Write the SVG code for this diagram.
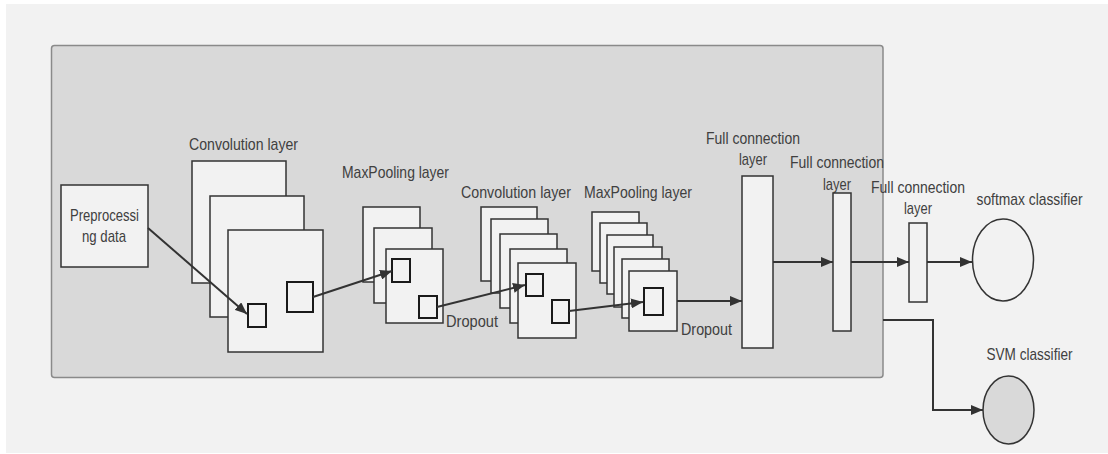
<svg xmlns="http://www.w3.org/2000/svg" width="1108" height="454" viewBox="0 0 1108 454">
  <style>
    .lbl { font-family: "Liberation Sans", Arial, sans-serif; font-size: 17px; fill: #404040; }
    .mid { text-anchor: middle; }
    .map { fill: #f2f2f2; stroke: #333333; stroke-width: 1.5; }
    .win { fill: #f2f2f2; stroke: #1a1a1a; stroke-width: 2; }
    .fc { fill: #f2f2f2; stroke: #333333; stroke-width: 1.5; }
    .link { fill: none; stroke: #333333; stroke-width: 2; marker-end: url(#arrow); }
  </style>
  <defs>
    <marker id="arrow" viewBox="0 0 12 10" refX="12" refY="5" markerWidth="12" markerHeight="10" markerUnits="userSpaceOnUse" orient="auto">
      <path d="M0,0 L12,5 L0,10 Z" fill="#333333"/>
    </marker>
  </defs>

  <!-- canvas -->
  <rect x="0" y="0" width="1108" height="454" fill="#ffffff"/>
  <rect x="6" y="4" width="1102" height="449" fill="#f2f2f2"/>

  <!-- CNN feature-extraction panel -->
  <g id="cnn-panel">
    <rect x="51.5" y="45.5" width="831.5" height="332" rx="3" fill="#d9d9d9" stroke="#8a8a8a" stroke-width="1.5"/>
  </g>

  <g id="preprocessing">
    <rect class="map" x="61" y="185" width="87" height="82"/>
    <text class="lbl mid" x="104.5" y="221" textLength="69" lengthAdjust="spacingAndGlyphs">Preprocessi</text>
    <text class="lbl mid" x="104" y="242" textLength="44" lengthAdjust="spacingAndGlyphs">ng data</text>
  </g>

  <g id="conv1">
    <text class="lbl mid" x="243.5" y="150" textLength="109" lengthAdjust="spacingAndGlyphs">Convolution layer</text>
    <rect class="map" x="192" y="161" width="94" height="122"/>
    <rect class="map" x="210" y="196" width="94" height="121"/>
    <rect class="map" x="228" y="230" width="95" height="122"/>
    <rect class="win" x="248" y="304" width="18" height="23"/>
    <rect class="win" x="287" y="282" width="26" height="30"/>
  </g>

  <g id="pool1">
    <text class="lbl mid" x="395.5" y="178" textLength="107" lengthAdjust="spacingAndGlyphs">MaxPooling layer</text>
    <rect class="map" x="363" y="207" width="57" height="75"/>
    <rect class="map" x="374" y="228" width="58" height="75"/>
    <rect class="map" x="386" y="249" width="57" height="74"/>
    <rect class="win" x="392" y="259" width="18" height="23"/>
    <rect class="win" x="419" y="296" width="18" height="22"/>
    <text class="lbl" x="446" y="327" textLength="52" lengthAdjust="spacingAndGlyphs">Dropout</text>
  </g>

  <g id="conv2">
    <text class="lbl mid" x="516" y="198" textLength="110" lengthAdjust="spacingAndGlyphs">Convolution layer</text>
    <rect class="map" x="481" y="207" width="56" height="74"/>
    <rect class="map" x="491" y="219" width="57" height="74"/>
    <rect class="map" x="500" y="234" width="57" height="74"/>
    <rect class="map" x="510" y="249" width="57" height="74"/>
    <rect class="map" x="518" y="263" width="58" height="75"/>
    <rect class="win" x="526" y="274" width="17" height="22"/>
    <rect class="win" x="552" y="300" width="17" height="23"/>
  </g>

  <g id="pool2">
    <text class="lbl mid" x="638" y="198" textLength="108" lengthAdjust="spacingAndGlyphs">MaxPooling layer</text>
    <rect class="map" x="592" y="212" width="47" height="59"/>
    <rect class="map" x="600" y="223" width="47" height="60"/>
    <rect class="map" x="607" y="235" width="46" height="59"/>
    <rect class="map" x="614" y="247" width="48" height="60"/>
    <rect class="map" x="622" y="259" width="47" height="59"/>
    <rect class="map" x="629" y="271" width="48" height="60"/>
    <rect class="win" x="644" y="288" width="19" height="27"/>
    <text class="lbl" x="681" y="335" textLength="51" lengthAdjust="spacingAndGlyphs">Dropout</text>
  </g>

  <g id="fc1">
    <text class="lbl mid" x="753" y="144" textLength="94" lengthAdjust="spacingAndGlyphs">Full connection</text>
    <text class="lbl mid" x="753" y="165" textLength="28" lengthAdjust="spacingAndGlyphs">layer</text>
    <rect class="fc" x="742" y="176" width="31" height="172"/>
  </g>

  <g id="fc2">
    <text class="lbl mid" x="837" y="168" textLength="94" lengthAdjust="spacingAndGlyphs">Full connection</text>
    <text class="lbl mid" x="837" y="190" textLength="28" lengthAdjust="spacingAndGlyphs">layer</text>
    <rect class="fc" x="833" y="193" width="18" height="138"/>
  </g>

  <g id="fc3">
    <text class="lbl mid" x="918" y="193" textLength="94" lengthAdjust="spacingAndGlyphs">Full connection</text>
    <text class="lbl mid" x="918" y="214" textLength="28" lengthAdjust="spacingAndGlyphs">layer</text>
    <rect class="fc" x="909" y="223" width="18" height="79"/>
  </g>

  <g id="softmax">
    <text class="lbl mid" x="1029.5" y="205" textLength="106" lengthAdjust="spacingAndGlyphs">softmax classifier</text>
    <ellipse cx="1003" cy="260" rx="30.5" ry="41" fill="#f2f2f2" stroke="#333333" stroke-width="1.5"/>
  </g>

  <g id="svm">
    <text class="lbl mid" x="1029.5" y="360" textLength="86" lengthAdjust="spacingAndGlyphs">SVM classifier</text>
    <ellipse cx="1008.5" cy="410" rx="25.5" ry="34" fill="#d9d9d9" stroke="#333333" stroke-width="1.5"/>
  </g>

  <!-- connectors -->
  <g id="connectors">
    <path class="link" d="M148,228 L247,314"/>
    <path class="link" d="M313,297 L392,271"/>
    <path class="link" d="M437,307 L525,285"/>
    <path class="link" d="M569,311 L643,302"/>
    <path class="link" d="M677,301 H742"/>
    <path class="link" d="M773,262 H833"/>
    <path class="link" d="M851,262 H909"/>
    <path class="link" d="M927,262 H972"/>
    <path class="link" d="M883,320 H933 V410 H983"/>
  </g>
</svg>
